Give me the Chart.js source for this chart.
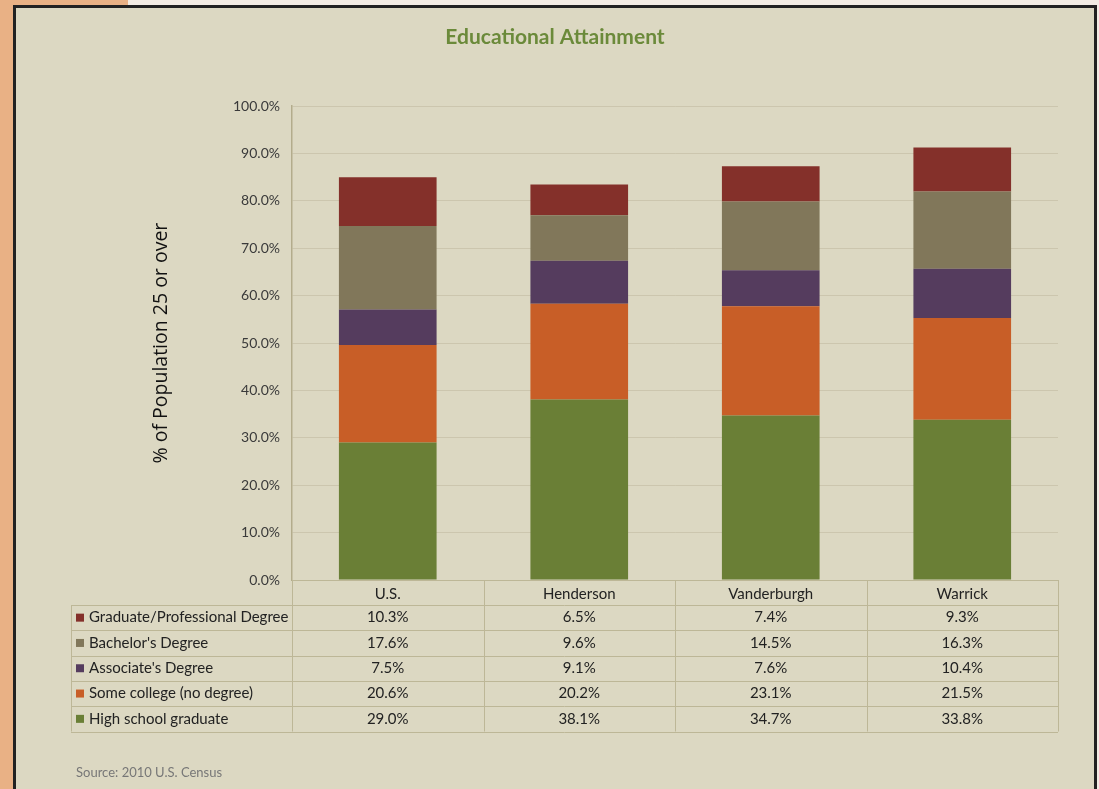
<!DOCTYPE html>
<html>
<head>
<meta charset="utf-8">
<script src="https://cdn.jsdelivr.net/npm/chart.js@4.4.1/dist/chart.umd.min.js"></script>
<style>
  body { margin: 0; width: 1099px; height: 789px; overflow: hidden; background: #f3ece4; position: relative; }
  #strip { position: absolute; left: 0; top: 0; width: 128px; height: 789px; background: #e9b185; }
  #panel { position: absolute; left: 13px; top: 5px; width: 1078px; height: 800px; border: 3px solid #222; background: #dcd8c2; }
  canvas { position: absolute; left: 0; top: 0; }
</style>
</head>
<body>
<div id="strip"></div>
<div id="panel"></div>
<canvas id="chart" width="1099" height="789"></canvas>
<script>
// data
const counties = ["U.S.", "Henderson", "Vanderburgh", "Warrick"];
const highSchool = [29.0, 38.1, 34.7, 33.8];
const someCollege = [20.6, 20.2, 23.1, 21.5];
const associates = [7.5, 9.1, 7.6, 10.4];
const bachelors = [17.6, 9.6, 14.5, 16.3];
const graduate = [10.3, 6.5, 7.4, 9.3];
const seriesNames = ["High school graduate", "Some college (no degree)", "Associate's Degree", "Bachelor's Degree", "Graduate/Professional Degree"];
const seriesColors = ["#6a7f36", "#c85e27", "#553c5e", "#81775a", "#84302a"];
const yTicks = [0, 10, 20, 30, 40, 50, 60, 70, 80, 90, 100];

const font = "Lato, 'Liberation Sans', sans-serif";
const lineColor = "#bdb797";

// draws the data table under the bars (Excel style)
const tablePlugin = {
  id: "dataTable",
  afterDraw(chart) {
    const ctx = chart.ctx;
    const x = chart.scales.x;
    const area = chart.chartArea;
    const rowH = 25.3;
    const top = area.bottom + 25;
    const left = 71;
    const rows = chart.data.datasets.slice().reverse();
    const bottom = top + rows.length * rowH;
    ctx.save();
    ctx.strokeStyle = lineColor;
    ctx.lineWidth = 1;
    ctx.beginPath();
    // horizontal lines
    for (let r = 0; r <= rows.length; r++) {
      const y = Math.round(top + r * rowH) + 0.5;
      ctx.moveTo(left, y); ctx.lineTo(area.right, y);
    }
    // vertical lines
    ctx.moveTo(left + 0.5, top); ctx.lineTo(left + 0.5, bottom);
    for (let i = 0; i <= counties.length; i++) {
      const xx = Math.round(x.getPixelForValue(i - 0.5)) + 0.5;
      ctx.moveTo(xx, area.bottom); ctx.lineTo(xx, bottom);
    }
    ctx.stroke();

    ctx.font = "15px " + font;
    ctx.textBaseline = "middle";
    rows.forEach((ds, r) => {
      const cy = top + r * rowH + rowH / 2;
      ctx.fillStyle = ds.backgroundColor;
      ctx.fillRect(76, cy - 4, 8, 8);
      ctx.fillStyle = "#222";
      ctx.textAlign = "left";
      ctx.fillText(ds.label, 89, cy);
      ctx.textAlign = "center";
      ds.data.forEach((v, i) => {
        ctx.fillText(v.toFixed(1) + "%", x.getPixelForValue(i), cy);
      });
    });

    ctx.font = "13px " + font;
    ctx.fillStyle = "#777";
    ctx.textAlign = "left";
    ctx.fillText("Source: 2010 U.S. Census", 76, 773);
    ctx.restore();
  }
};

const values = [highSchool, someCollege, associates, bachelors, graduate];

new Chart(document.getElementById("chart"), {
  type: "bar",
  data: {
    labels: counties,
    datasets: values.map((d, i) => ({
      label: seriesNames[i],
      data: d,
      backgroundColor: seriesColors[i],
      barPercentage: 0.51,
      categoryPercentage: 1.0
    }))
  },
  options: {
    responsive: false,
    animation: false,
    layout: { padding: { left: 52, right: 41, top: 0, bottom: 0 } },
    plugins: {
      legend: { display: false },
      tooltip: { enabled: false },
      title: {
        display: true,
        text: "Educational Attainment",
        color: "#6b8a3a",
        font: { family: font, size: 21, weight: "bold" },
        padding: { top: 25, bottom: 56 }
      }
    },
    scales: {
      x: {
        stacked: true,
        afterFit: s => { s.height = 209; },
        grid: { display: false, drawTicks: false },
        border: { color: lineColor, width: 1 },
        ticks: { color: "#222", padding: 5, font: { family: font, size: 15 } }
      },
      y: {
        stacked: true,
        min: 0,
        max: 100,
        afterFit: s => { s.width = 240; },
        afterBuildTicks: s => { s.ticks = yTicks.map(v => ({ value: v })); },
        grid: { color: "rgba(185,178,150,0.45)", drawTicks: false },
        border: { color: "#b3ac8c", width: 1.5 },
        ticks: {
          color: "#3a3a3a",
          padding: 12,
          font: { family: font, size: 14 },
          callback: v => v.toFixed(1) + "%"
        },
        title: {
          display: true,
          text: "% of Population 25 or over",
          color: "#111",
          font: { family: "'Open Sans', sans-serif", size: 19.5 },
          padding: { top: 98, bottom: 0 }
        }
      }
    }
  },
  plugins: [tablePlugin]
});
</script>
</body>
</html>
